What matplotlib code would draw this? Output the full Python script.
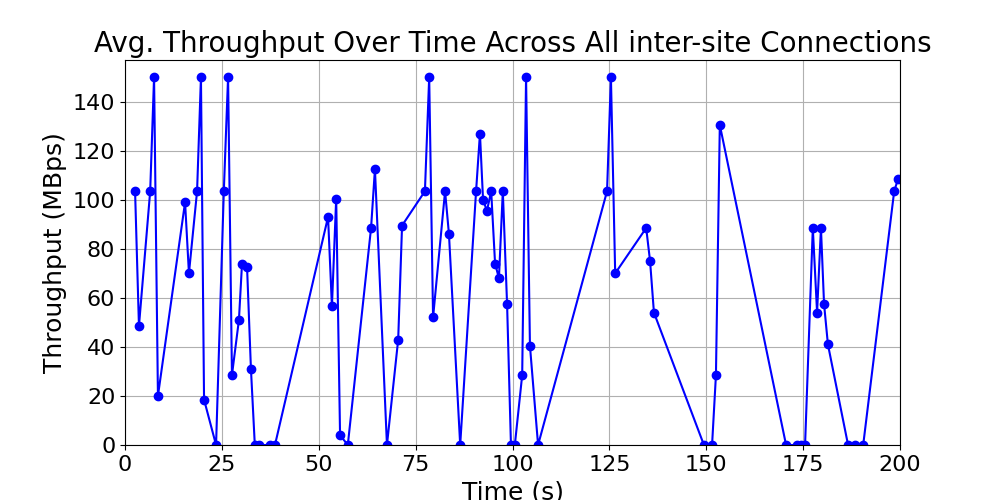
import matplotlib
matplotlib.use("Agg")
import matplotlib.pyplot as plt

time_s = [2.6,3.6,6.5,7.5,8.5,15.5,16.5,18.6,19.6,20.4,23.5,25.5,26.6,27.6,29.4,30.2,31.5,32.5,33.5,34.6,37.4,38.7,
          52.4,53.4,54.5,55.5,57.5,63.5,64.5,67.6,70.5,71.5,77.4,78.5,79.5,82.6,83.6,86.5,90.6,91.6,92.4,93.4,94.5,
          95.5,96.5,97.5,98.6,99.6,100.6,102.5,103.5,104.5,106.6,124.4,125.4,126.5,134.5,135.5,136.5,149.4,151.5,
          152.5,153.5,170.6,173.4,174.5,175.5,177.5,178.6,179.6,180.4,181.4,186.6,188.4,190.5,198.5,199.5]
throughput = [103.5,48.5,103.5,150,20,99,70,103.5,150,18.5,0,103.5,150,28.5,51,74,72.5,31,0,0,0,0,
              93,56.5,100.5,4,0,88.5,112.5,0,43,89.5,103.5,150,52,103.5,86,0,103.5,127,100,95.5,103.5,
              74,68,103.5,57.5,0,0,28.5,150,40.5,0,103.5,150,70,88.5,75,54,0,0,
              28.5,130.5,0,0,0,0,88.5,54,88.5,57.5,41,0,0,0,103.5,108.5]

fig, ax = plt.subplots(figsize=(10, 5), dpi=100)
ax.plot(time_s, throughput, 'o-', color='blue', markersize=6, linewidth=1.5)
ax.set_xlim(0, 200)
ax.set_ylim(0, 157)
ax.grid(True)
ax.set_title("Avg. Throughput Over Time Across All inter-site Connections", fontsize=20)
ax.set_xlabel("Time (s)", fontsize=18)
ax.set_ylabel("Throughput (MBps)", fontsize=18)
ax.tick_params(labelsize=16)
fig.subplots_adjust(left=0.125, right=0.9, top=0.88, bottom=0.11)
fig.savefig("out.png")
